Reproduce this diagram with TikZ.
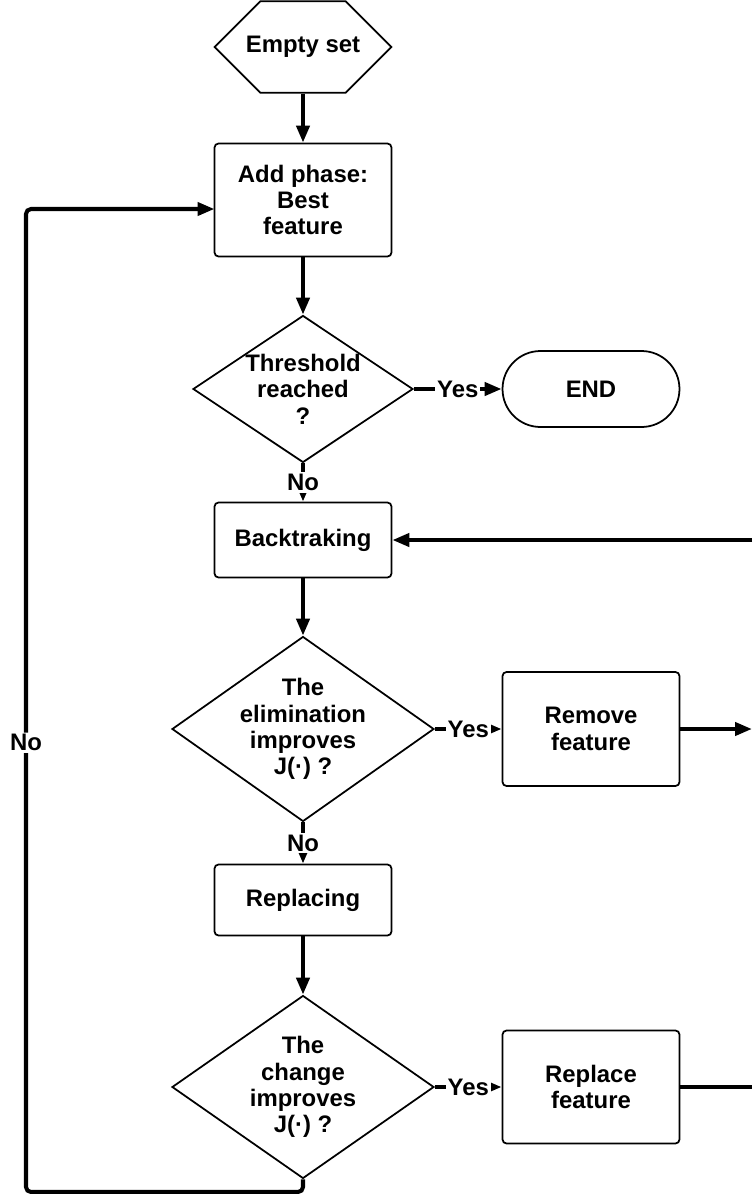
\documentclass[tikz,border=0pt]{standalone}
\usepackage{fontspec}
\setmainfont{Liberation Sans}
\usetikzlibrary{shapes.geometric,shapes.misc,arrows.meta}

\begin{document}
\begin{tikzpicture}[x=0.02cm,y=-0.02cm,
    every node/.style={font=\fontsize{13.6}{15}\selectfont\bfseries, align=center},
    box/.style={draw, line width=1pt, rounded corners=0.08cm, minimum width=3.54cm, inner sep=0pt},
    decision/.style={draw, diamond, line width=1pt, inner sep=0pt},
    arr/.style={line width=2.3pt, -{Triangle[length=0.34cm,width=0.26cm]}},
    lbl/.style={fill=white, inner sep=1pt}]
\useasboundingbox (0,0) rectangle (752,1194);

% Start and end
\node[draw, line width=1pt, chamfered rectangle, chamfered rectangle xsep=0.5cm, chamfered rectangle ysep=0.7cm,
      minimum width=3.54cm, minimum height=1.4cm, inner sep=0pt] (start) at (303,47) {Empty set};
\node[draw, line width=1pt, rounded corners=0.76cm, minimum width=3.54cm, minimum height=1.52cm] (end) at (591,389) {END};

% Main column
\node[box, minimum height=2.26cm] (add) at (303,200) {Add phase:\\Best\\feature};
\node[decision, minimum width=4.4cm, minimum height=2.94cm,
      label={center:{Threshold\\reached\\?}}] (thr) at (303,389) {};
\node[box, minimum height=1.5cm] (back) at (303,540) {Backtraking};
\node[decision, minimum width=5.24cm, minimum height=3.7cm,
      label={center:{The\\elimination\\improves\\J(·) ?}}] (elim) at (303,729) {};
\node[box, minimum height=1.42cm] (repl) at (303,900) {Replacing};
\node[decision, minimum width=5.24cm, minimum height=3.66cm,
      label={center:{The\\change\\improves\\J(·) ?}}] (chg) at (303,1087) {};

% Side boxes
\node[box, minimum height=2.28cm] (remove) at (591,729) {Remove\\feature};
\node[box, minimum height=2.26cm] (replace) at (591,1087) {Replace\\feature};

% Loose ends at the right border and the loop entry
\coordinate (rtop) at (752,540);
\coordinate (rmid) at (752,729);
\coordinate (rbot) at (752,1087);
\coordinate (addin) at (214.5,209);

% Flow
\foreach \a/\b in {start/add, add/thr, back/elim, repl/chg}
    \draw[arr] (\a.south) -- (\b.north);
\foreach \a/\b in {thr/back, elim/repl}
    \draw[arr] (\a.south) -- node[lbl]{No} (\b.north);
\foreach \a/\b in {thr/end, elim/remove, chg/replace}
    \draw[arr] (\a.east) -- node[lbl]{Yes} (\b.west);

\draw[arr] (rtop) -- (back.east);
\draw[arr] (remove.east) -- (rmid);
\draw[line width=2.3pt] (replace.east) -- (rbot);

% Back to the add phase
\draw[arr, rounded corners=0.1cm] (chg.south) -- (303,1192) -- (26,1192)
    -- node[lbl, pos=0.457]{No} (26,209) -- (addin);
\end{tikzpicture}
\end{document}
